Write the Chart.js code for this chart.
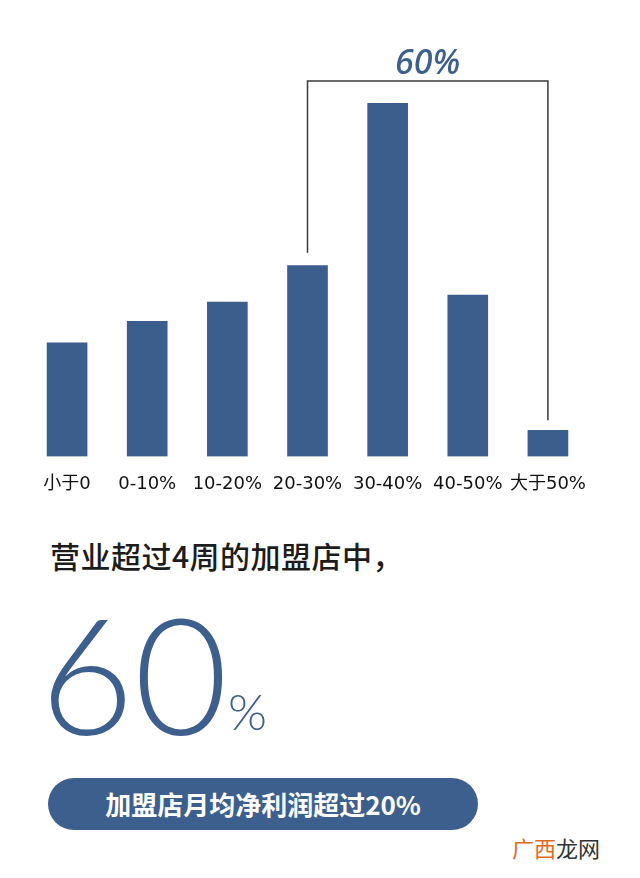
<!DOCTYPE html>
<html>
<head>
<meta charset="utf-8">
<script src="https://cdn.jsdelivr.net/npm/chart.js@4"></script>
<style>
  body { margin: 0; background: #fff; width: 640px; height: 878px; position: relative; overflow: hidden; }
  #wrap { position: absolute; left: 0; top: 0; width: 640px; height: 512px; }
  .t { position: absolute; white-space: nowrap; }
  #head { left: 50px; top: 538px; font: 500 30px/34px "Noto Sans CJK SC", sans-serif; color: #1c1c1c; letter-spacing: 0.5px; }
  #big { left: 40px; top: 592px; font: 300 162px/162px "Lato Light", Lato, "Noto Sans", sans-serif; color: #3d5f8e; }
  #pct { left: 228px; top: 686px; font: 300 50px/50px "Lato Light", Lato, "Noto Sans", sans-serif; color: #3d5f8e; }
  #pill { left: 48px; top: 778px; width: 430px; height: 52px; border-radius: 26px; background: #3d5f8e;
          color: #fff; font: 700 26px/52px "Noto Sans CJK SC", sans-serif; text-align: center; }
  #mark { left: 512px; top: 834px; font: 400 22px/26px "Noto Sans CJK SC", sans-serif; color: #333; }
</style>
</head>
<body>
<div id="wrap"><canvas id="chart"></canvas></div>
<div class="t" id="head">营业超过4周的加盟店中，</div>
<div class="t" id="big">60</div>
<div class="t" id="pct">%</div>
<div class="t" id="pill">加盟店月均净利润超过20%</div>
<div class="t" id="mark"><span style="color:#e0691f">广西</span>龙网</div>
<script>
// 加盟店月均净利润分布
const categories = ['小于0', '0-10%', '10-20%', '20-30%', '30-40%', '40-50%', '大于50%'];
const shares = [10.0, 11.9, 13.6, 16.8, 31.1, 14.2, 2.3];
const bracketFrom = 3;
const bracketTo = 6;
const bracketLabel = '60%';

const barColor = '#3c5e8d';

// bracket over 20-30% .. 大于50%
const bracketPlugin = {
    id: 'bracket',
    afterDatasetsDraw(chart) {
        const ctx = chart.ctx;
        const x = chart.scales.x;
        const y = chart.scales.y;
        const x1 = x.getPixelForValue(bracketFrom);
        const x2 = x.getPixelForValue(bracketTo);
        const y1 = y.getPixelForValue(shares[bracketFrom]) - 13;
        const y2 = y.getPixelForValue(shares[bracketTo]) - 10;
        const top = 81;
        ctx.save();
        ctx.strokeStyle = '#3a3a3a';
        ctx.lineWidth = 1.5;
        ctx.beginPath();
        ctx.moveTo(x1, y1);
        ctx.lineTo(x1, top);
        ctx.lineTo(x2, top);
        ctx.lineTo(x2, y2);
        ctx.stroke();
        ctx.fillStyle = '#3d5f8e';
        ctx.font = 'italic 500 34px "Noto Sans", sans-serif';
        ctx.textAlign = 'center';
        ctx.textBaseline = 'alphabetic';
        ctx.fillText(bracketLabel, (x1 + x2) / 2, 74);
        ctx.restore();
    }
};

new Chart(document.getElementById('chart'), {
    type: 'bar',
    data: {
        labels: categories,
        datasets: [{
            data: shares,
            backgroundColor: barColor,
            barThickness: 40
        }]
    },
    options: {
        responsive: true,
        maintainAspectRatio: false,
        animation: false,
        layout: { padding: { left: 27, right: 52, top: 59, bottom: 0 } },
        plugins: { legend: { display: false }, tooltip: { enabled: false } },
        scales: {
            x: {
                grid: { display: false, drawTicks: false },
                border: { display: false },
                ticks: {
                    color: '#111',
                    padding: 17,
                    maxRotation: 0,
                    autoSkip: false,
                    font: { family: '"DejaVu Sans", "Noto Sans CJK SC", sans-serif', size: 18 }
                }
            },
            y: {
                display: false,
                min: 0,
                max: 35
            }
        }
    },
    plugins: [bracketPlugin]
});
</script>
</body>
</html>
